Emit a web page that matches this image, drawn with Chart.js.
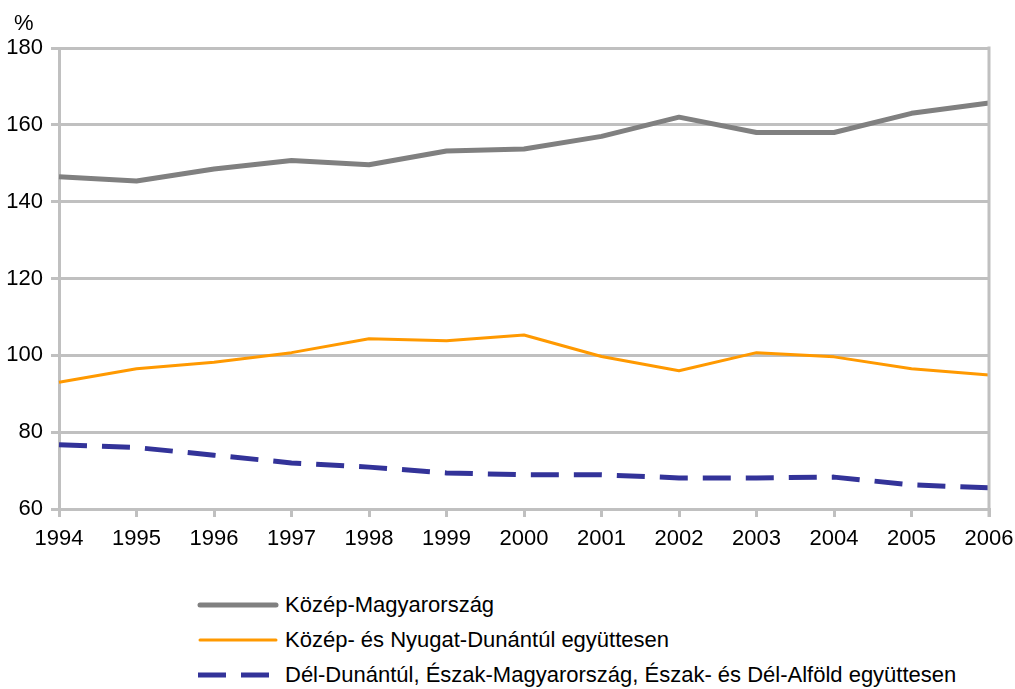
<!DOCTYPE html>
<html>
<head>
<meta charset="utf-8">
<script src="https://cdn.jsdelivr.net/npm/chart.js@4/dist/chart.umd.min.js"></script>
<style>
  html, body { margin: 0; padding: 0; background: #fff; }
  body { width: 1015px; height: 689px; position: relative; overflow: hidden; font-family: "Liberation Sans", Arial, sans-serif; }
  #wrap { position: absolute; left: 0; top: 0; width: 1015px; height: 565px; }
  #legend { position: absolute; left: 197px; top: 587px; }
  .row { height: 35px; display: flex; align-items: center; font-size: 22px; color: #000; white-space: nowrap; }
  .row svg { margin-right: 6px; }
</style>
</head>
<body>
<div id="wrap"><canvas id="c"></canvas></div>
<div id="legend"></div>
<script>
const years = ["1994","1995","1996","1997","1998","1999","2000","2001","2002","2003","2004","2005","2006"];
const kozepMagyarorszag = [146.5, 145.4, 148.5, 150.7, 149.6, 153.2, 153.7, 157.0, 162.0, 158.0, 158.0, 163.0, 165.7];
const kozepNyugatDunantul = [93.0, 96.5, 98.2, 100.7, 104.3, 103.8, 105.3, 99.7, 96.0, 100.7, 99.6, 96.5, 94.9];
const delEszak = [76.7, 76.0, 74.0, 72.0, 70.9, 69.4, 68.9, 68.9, 68.1, 68.1, 68.3, 66.3, 65.5];
const seriesNames = [
  "Közép-Magyarország",
  "Közép- és Nyugat-Dunántúl együttesen",
  "Dél-Dunántúl, Észak-Magyarország, Észak- és Dél-Alföld együttesen"
];
const yTicks = [60, 80, 100, 120, 140, 160, 180];

const FONT = "'Liberation Sans', Arial, sans-serif";
const GRID = "#c0c0c0";

const datasets = [
  { label: seriesNames[0], data: kozepMagyarorszag, borderColor: "#808080", borderWidth: 5, borderDash: [] },
  { label: seriesNames[1], data: kozepNyugatDunantul, borderColor: "#ff9900", borderWidth: 3, borderDash: [] },
  { label: seriesNames[2], data: delEszak, borderColor: "#333399", borderWidth: 5, borderDash: [28, 15] }
].map(d => Object.assign(d, { pointRadius: 0, pointHoverRadius: 0, tension: 0, fill: false, borderCapStyle: "butt", borderJoinStyle: "round" }));

const extras = {
  id: "extras",
  afterDatasetsDraw(chart) {
    const ctx = chart.ctx, a = chart.chartArea;
    ctx.save();
    ctx.strokeStyle = GRID;
    ctx.lineWidth = 3;
    ctx.beginPath();
    ctx.moveTo(a.right, a.top - 1.5);
    ctx.lineTo(a.right, a.bottom + 8);
    ctx.stroke();
    ctx.fillStyle = "#000";
    ctx.font = "22px " + FONT;
    ctx.textAlign = "left";
    ctx.textBaseline = "alphabetic";
    ctx.fillText("%", 14, 30);
    ctx.restore();
  }
};

const chart = new Chart(document.getElementById("c"), {
  type: "line",
  data: { labels: years, datasets },
  plugins: [extras],
  options: {
    responsive: true,
    maintainAspectRatio: false,
    animation: false,
    events: [],
    layout: { padding: { top: 48, right: 26, left: 0, bottom: 0 } },
    plugins: { legend: { display: false }, tooltip: { enabled: false } },
    scales: {
      x: {
        type: "category",
        offset: false,
        grid: { display: true, drawOnChartArea: false, drawTicks: true, tickLength: 8, color: GRID, lineWidth: 3 },
        border: { display: true, color: GRID, width: 3 },
        ticks: { color: "#000", font: { family: FONT, size: 22 }, padding: 9, maxRotation: 0, autoSkip: false },
        afterFit(s) { s.height = 56; s.paddingLeft = 0; s.paddingRight = 0; }
      },
      y: {
        min: 60, max: 180,
        afterBuildTicks(s) { s.ticks = yTicks.map(v => ({ value: v })); },
        grid: { color: GRID, lineWidth: 3, drawTicks: true, tickLength: 8 },
        border: { display: true, color: GRID, width: 3 },
        ticks: { color: "#000", font: { family: FONT, size: 22 }, padding: 8 },
        afterFit(s) { s.width = 59; s.paddingTop = 0; s.paddingBottom = 0; }
      }
    }
  }
});

// HTML legend built from the datasets
const leg = document.getElementById("legend");
datasets.forEach(d => {
  const row = document.createElement("div");
  row.className = "row";
  const dash = d.borderDash.length ? `stroke-dasharray="${d.borderDash.join(",")}"` : "";
  const cap = d.borderDash.length ? "butt" : "round";
  row.innerHTML = `<svg width="82" height="8"><line x1="${d.borderDash.length?1:3}" y1="4" x2="${d.borderDash.length?82:79}" y2="4" stroke="${d.borderColor}" stroke-width="${d.borderWidth}" stroke-linecap="${cap}" ${dash}/></svg><span>${d.label}</span>`;
  leg.appendChild(row);
});
</script>
</body>
</html>
